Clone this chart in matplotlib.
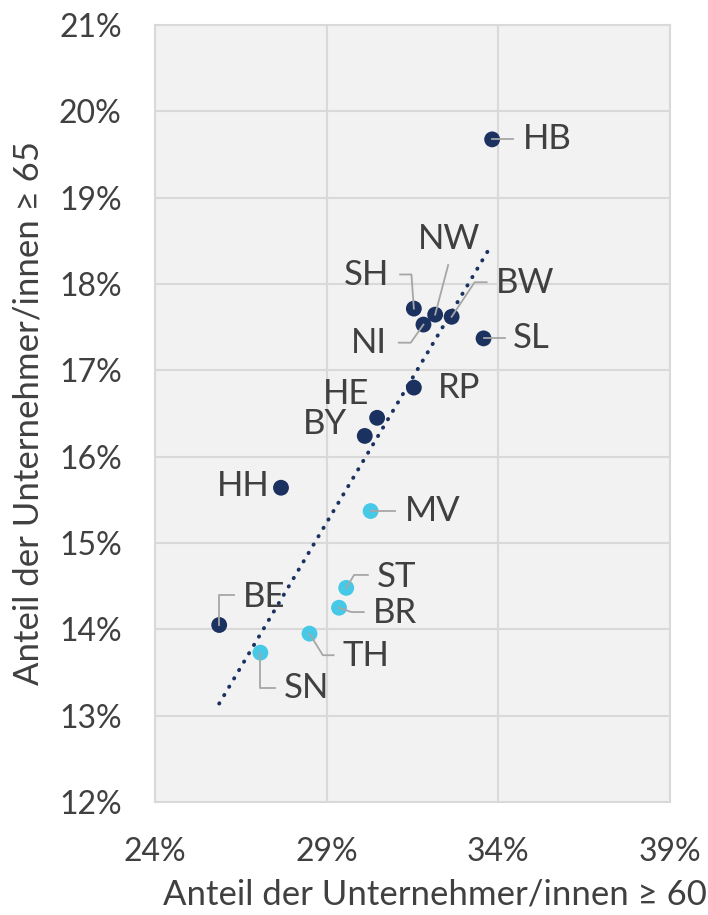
import numpy as np
import matplotlib
matplotlib.use("Agg")
import matplotlib.pyplot as plt

plt.rcParams['font.family'] = ['Lato', 'DejaVu Sans']

# data: share of entrepreneurs >= 60 (x) and >= 65 (y), in percent
laender = ["HB", "SH", "NW", "BW", "NI", "SL", "RP", "HE", "BY", "HH",
           "MV", "ST", "BR", "BE", "TH", "SN"]
anteil_60 = [33.82, 31.54, 32.16, 32.64, 31.82, 33.57, 31.54, 30.47, 30.11, 27.67,
             30.28, 29.57, 29.36, 25.87, 28.50, 27.07]
anteil_65 = [19.675, 17.715, 17.645, 17.62, 17.53, 17.37, 16.80, 16.45, 16.24, 15.64,
             15.37, 14.48, 14.25, 14.05, 13.95, 13.73]
ost = ["MV", "ST", "BR", "TH", "SN"]

x_ticks = [24, 29, 34, 39]
y_ticks = list(range(12, 22))

navy = "#1b3160"
cyan = "#45c9e6"
txt = "#404040"
lead = "#a6a6a6"

# label placement: text position, alignment, leader vertices (after the point)
labels = {
    "HB": ((34.71, 19.675), "left", [(34.44, 19.675)]),
    "SH": ((30.82, 18.10), "right", [(31.47, 18.11), (31.14, 18.11)]),
    "NW": ((32.56, 18.52), "center", [(32.54, 18.22)]),
    "BW": ((33.93, 18.01), "left", [(33.31, 18.02), (33.66, 18.02)]),
    "NI": ((30.75, 17.32), "right", [(31.45, 17.32), (31.10, 17.32)]),
    "SL": ((34.42, 17.37), "left", [(34.19, 17.37)]),
    "RP": ((32.23, 16.80), "left", []),
    "HE": ((30.23, 16.73), "right", []),
    "BY": ((29.59, 16.38), "right", []),
    "HH": ((27.35, 15.66), "right", []),
    "MV": ((31.27, 15.37), "left", [(30.99, 15.37)]),
    "ST": ((30.45, 14.61), "left", [(29.80, 14.63), (30.20, 14.63)]),
    "BR": ((30.36, 14.19), "left", [(29.72, 14.20), (30.08, 14.20)]),
    "BE": ((26.56, 14.38), "left", [(25.87, 14.40), (26.29, 14.40)]),
    "TH": ((29.45, 13.69), "left", [(28.89, 13.70), (29.20, 13.70)]),
    "SN": ((27.76, 13.32), "left", [(27.07, 13.32), (27.49, 13.32)]),
}

fig = plt.figure(figsize=(7.08, 9.15), dpi=100)
ax = fig.add_axes([0.2189, 0.1235, 0.7274, 0.8492])
ax.set_facecolor("#f2f2f2")

x = np.array(anteil_60)
y = np.array(anteil_65)
cols = [cyan if l in ost else navy for l in laender]

# linear trend
k, d = np.polyfit(x, y, 1)
xt = np.array([x.min(), x.max()])
ax.plot(xt, k * xt + d, color=navy, lw=2.8, linestyle=(0, (0.1, 2.4)),
        dash_capstyle="round", zorder=2)

ax.scatter(x, y, s=130, c=cols, edgecolors="none", zorder=3)

for l, xi, yi in zip(laender, x, y):
    (tx, ty), ha, pts = labels[l]
    if pts:
        px = [xi] + [p[0] for p in pts]
        py = [yi] + [p[1] for p in pts]
        ax.plot(px, py, color=lead, lw=1.3, zorder=4)
    ax.text(tx, ty, l, ha=ha, va="center", fontsize=25, color=txt, zorder=5)

ax.set_xlim(24, 39)
ax.set_ylim(12, 21)
ax.set_xticks(x_ticks)
ax.set_yticks(y_ticks)
ax.set_xticklabels([f"{t}%" for t in x_ticks])
ax.set_yticklabels([f"{t}%" for t in y_ticks])
ax.grid(True, color="#d9d9d9", lw=1.5)
ax.set_axisbelow(True)
for s in ax.spines.values():
    s.set_color("#d9d9d9")
    s.set_linewidth(1.5)
ax.tick_params(length=0, labelsize=23, labelcolor=txt, pad=25)
ax.tick_params(axis="y", pad=24)

ax.set_xlabel("Anteil der Unternehmer/innen ≥ 60", fontsize=25, color=txt)
ax.set_ylabel("Anteil der Unternehmer/innen ≥ 65", fontsize=25, color=txt)
ax.xaxis.set_label_coords(0.544, -0.098)
ax.yaxis.set_label_coords(-0.214, 0.5)

fig.savefig("out.png", dpi=100)
